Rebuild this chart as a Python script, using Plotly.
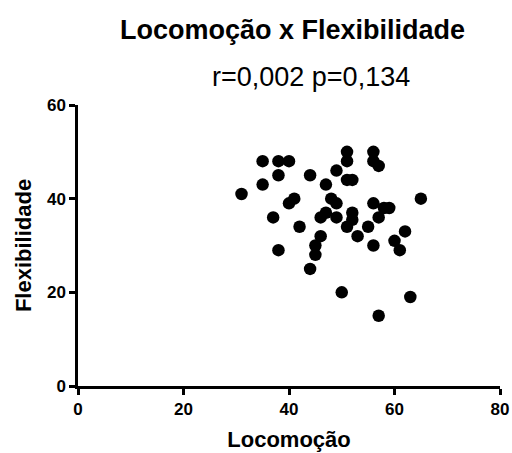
import plotly.graph_objects as go

locomocao = [31, 35, 35, 37, 38, 38, 38, 40, 40, 41, 42, 44, 44, 45, 45, 46, 46, 47, 47, 48,
             49, 49, 49, 50, 51, 51, 51, 51, 52, 52, 52, 53, 55, 56, 56, 57, 56, 57, 56, 57,
             58, 59, 60, 61, 62, 63, 65]
flexibilidade = [41, 48, 43, 36, 48, 45, 29, 48, 39, 40, 34, 45, 25, 30, 28, 32, 36, 37, 43, 40,
                 46, 39, 36, 20, 50, 48, 44, 34, 44, 37, 35.5, 32, 34, 50, 48, 47, 39, 36, 30, 15,
                 38, 38, 31, 29, 33, 19, 40]

x_ticks = [0, 20, 40, 60, 80]
y_ticks = [0, 20, 40, 60]

FONT = "Liberation Sans, Arial, sans-serif"
W, H = 512, 453
ML, MR, MT, MB = 78, 12, 105, 67

fig = go.Figure(go.Scatter(
    x=locomocao, y=flexibilidade, mode="markers",
    marker=dict(color="black", size=12.5, line=dict(width=0)),
    cliponaxis=False,
))

axis_common = dict(
    showgrid=False, zeroline=False, showline=True, linecolor="black", linewidth=2.5,
    ticks="outside", ticklen=6, tickwidth=2.5, tickcolor="black", automargin=False,
    tickfont=dict(family=FONT, size=17, color="black", weight="bold"),
)

pw = W - ML - MR
ph = H - MT - MB

def px_to_paper(x, y_from_top):
    return (x - ML) / pw, (H - y_from_top - MB) / ph

tx, ty = px_to_paper(292, 30)
sx, sy = px_to_paper(311, 77)

fig.update_layout(
    width=W, height=H,
    margin=dict(l=ML, r=MR, t=MT, b=MB),
    paper_bgcolor="white", plot_bgcolor="white",
    showlegend=False,
    xaxis=dict(range=[0, 80], tickvals=x_ticks, **axis_common,
               title=dict(text="Locomoção", font=dict(family=FONT, size=22, color="black", weight="bold"),
                          standoff=14)),
    yaxis=dict(range=[0, 60], tickvals=y_ticks, **axis_common,
               title=dict(text="Flexibilidade", font=dict(family=FONT, size=22, color="black", weight="bold"),
                          standoff=10)),
    annotations=[
        dict(text="Locomoção x Flexibilidade", x=tx, y=ty, xref="paper", yref="paper",
             xanchor="center", yanchor="middle",
             showarrow=False, font=dict(family=FONT, size=27, color="black", weight="bold")),
        dict(text="r=0,002 p=0,134", x=sx, y=sy, xref="paper", yref="paper",
             xanchor="center", yanchor="middle",
             showarrow=False, font=dict(family=FONT, size=27, color="black")),
    ],
)

fig.write_html("out.html", config={"displayModeBar": False},
               post_script="document.body.style.margin='0';")
